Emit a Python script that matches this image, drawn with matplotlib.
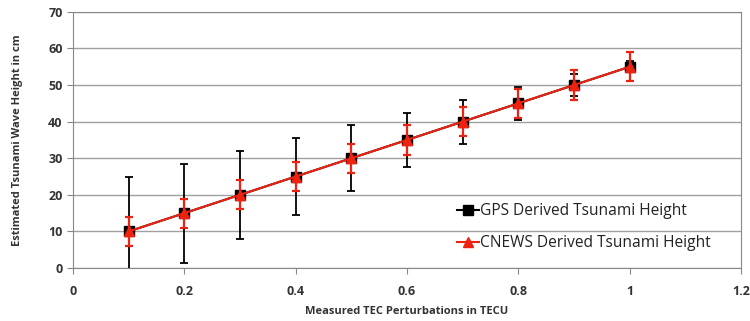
import numpy as np
import matplotlib.pyplot as plt
from matplotlib.lines import Line2D

tec = [0.1, 0.2, 0.3, 0.4, 0.5, 0.6, 0.7, 0.8, 0.9, 1.0]
gps_height = [10, 15, 20, 25, 30, 35, 40, 45, 50, 55]
gps_err = [15, 13.5, 12, 10.5, 9, 7.5, 6, 4.5, 3, 1.5]
cnews_height = [10, 15, 20, 25, 30, 35, 40, 45, 50, 55]
cnews_err = [4, 4, 4, 4, 4, 4, 4, 4, 4, 4]

plt.rcParams['font.family'] = ['Open Sans', 'DejaVu Sans']

fig = plt.figure(figsize=(7.5, 3.21), dpi=100)
ax = fig.add_axes([0.0973, 0.165, 0.8907, 0.798])

ax.errorbar(tec, gps_height, yerr=gps_err, color='black', marker='s', ms=7,
            lw=1.5, elinewidth=1.3, capsize=3, capthick=1.3, zorder=3)
ax.errorbar(tec, cnews_height, yerr=cnews_err, color='#ee2211', marker='^', ms=7,
            lw=1.5, elinewidth=1.6, capsize=3, capthick=1.6, zorder=4)

ax.set_xlim(0, 1.2)
ax.set_ylim(0, 70)
ax.set_xticks([0, 0.2, 0.4, 0.6, 0.8, 1.0, 1.2])
ax.set_xticklabels(['0', '0.2', '0.4', '0.6', '0.8', '1', '1.2'])
ax.set_yticks(range(0, 71, 10))
ax.yaxis.grid(True, color='#a0a0a0', lw=1)
ax.set_axisbelow(True)
for s in ax.spines.values():
    s.set_color('#888888')
ax.tick_params(colors='#888888', labelcolor='#333333', labelsize=9, length=4)
for lbl in ax.get_xticklabels() + ax.get_yticklabels():
    lbl.set_fontweight('bold')
ax.tick_params(axis='x', pad=8)

ax.set_xlabel('Measured TEC Perturbations in TECU', fontsize=8, fontweight='bold',
              color='#333333', labelpad=6)
ax.set_ylabel('Estimated Tsunami Wave Height in cm', fontsize=8, fontweight='bold',
              color='#333333', labelpad=18)

handles = [Line2D([], [], color='black', marker='s', ms=7, lw=1.5),
           Line2D([], [], color='#ee2211', marker='^', ms=7, lw=1.5)]
ax.legend(handles, ['GPS Derived Tsunami Height', 'CNEWS Derived Tsunami Height'],
          loc='lower right', bbox_to_anchor=(0.975, 0.01), frameon=False,
          fontsize=11.2, handlelength=1.4, handletextpad=0.05, labelspacing=1.05,
          labelcolor='#222222')

fig.savefig('out.png', dpi=100)
